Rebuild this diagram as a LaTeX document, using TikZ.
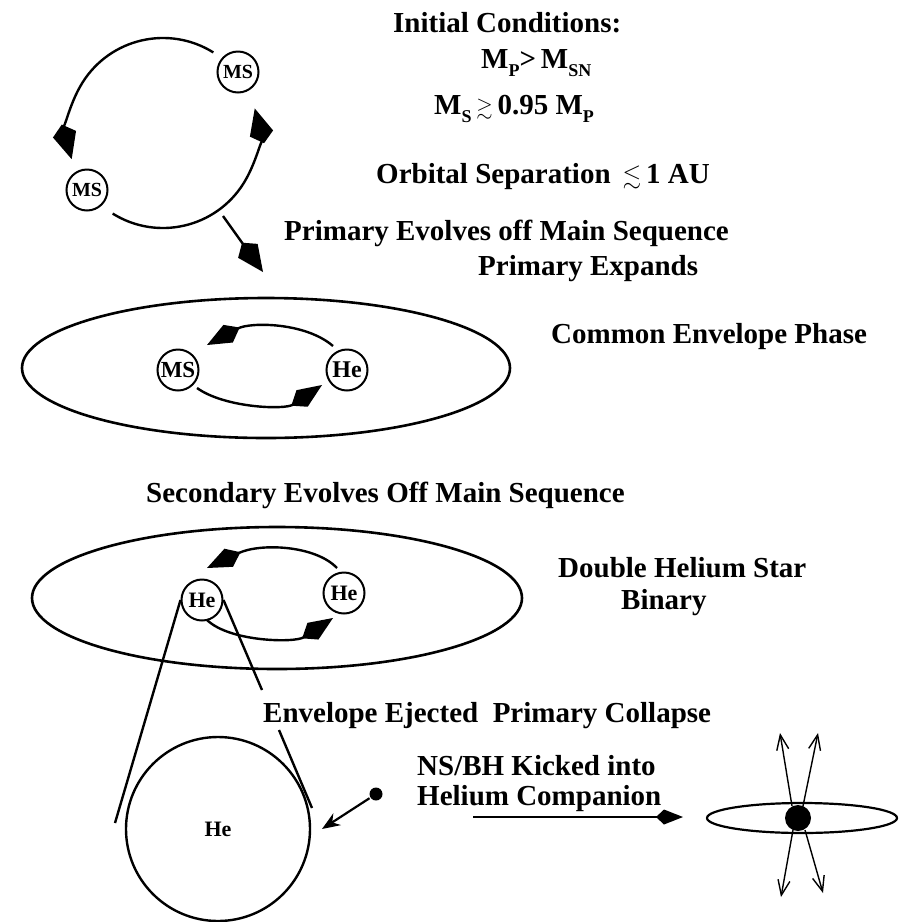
\documentclass[tikz,border=0pt]{standalone}
\usepackage{amssymb}
\usepackage{fontspec}
\setmainfont{Liberation Serif}
\usetikzlibrary{arrows.meta,shapes.geometric}
\newcommand{\mysub}[1]{\raisebox{-0.28em}{\fontsize{18}{18}\selectfont #1}}
\begin{document}
\begin{tikzpicture}[x=1pt,y=-1pt, line width=2.4pt,
  lbl/.style={font=\fontsize{29}{33}\selectfont\bfseries, inner sep=0pt, anchor=base west},
  star/.style={circle, draw, line width=2pt, minimum size=41pt, inner sep=0pt},
  bigkite/.style={-{Kite[length=36pt,width=24pt,inset=10pt]}},
  flatkite/.style={-{Kite[length=37pt,width=20pt,inset=13pt]}},
  envel/.style={draw, ellipse, inner sep=0pt, line width=2.6pt},
  jet/.style={line width=1.4pt, -{Straight Barb[length=15pt,width=12pt]}}
]
\useasboundingbox (0,0) rectangle (899,922);

% --- initial binary
\coordinate (o1) at (163,133);
\node[star, font=\fontsize{20}{20}\selectfont\bfseries] (ms1) at (238,72) {MS};
\node[star, font=\fontsize{20}{20}\selectfont\bfseries] (ms2) at (87,190) {MS};
\draw[bigkite] (o1) ++(-58:95) arc[start angle=-58,end angle=-196,radius=95];
\draw[bigkite] (o1) ++(122:95) arc[start angle=122,end angle=-15,radius=95];
\coordinate (d1a) at (223,216);
\coordinate (d1b) at (263,272);
\draw[bigkite] (d1a) -- (d1b);

% --- texts top
\node[lbl] (t1) at (392,32) {Initial Conditions:};
\node[lbl] (t2) at (480,68) {M\mysub{P}>\,M\mysub{SN}};
\node[lbl] (t3) at (433,114) {M\mysub{S}\,{\fontsize{21}{21}\selectfont$\gtrsim$}\,0.95 M\mysub{P}};
\node[lbl] (t4) at (375,183) {Orbital Separation \,{\fontsize{24}{24}\selectfont$\lesssim$}\,1 AU};
\node[lbl] (t5) at (283,240) {Primary Evolves off Main Sequence};
\node[lbl] (t6) at (477,275) {Primary Expands};

% --- common envelope
\node[envel, minimum width=488pt, minimum height=140pt] (ce) at (266,368) {};
\node[star, font=\fontsize{23}{23}\selectfont\bfseries] (ms3) at (178,370) {MS};
\node[star, font=\fontsize{24}{24}\selectfont\bfseries] (he1) at (347,370) {He};
\coordinate (c1a) at (333,346);
\coordinate (c1b) at (207,345);
\coordinate (c2a) at (197,388);
\coordinate (c2b) at (322,385);
\draw[flatkite] (c1a) .. controls (305,322) and (250,322) .. (c1b);
\draw[flatkite] (c2a) .. controls (225,408) and (285,410) .. (c2b);
\node[lbl] (t7) at (550,343) {Common Envelope Phase};

\node[lbl] (t8) at (145,502) {Secondary Evolves Off Main Sequence};

% --- double helium star
\node[envel, minimum width=490pt, minimum height=142pt] (dhe) at (277,598) {};
\node[star, font=\fontsize{22}{22}\selectfont\bfseries] (he2) at (202,600) {He};
\node[star, font=\fontsize{22}{22}\selectfont\bfseries] (he3) at (344,593) {He};
\coordinate (h1a) at (337,568);
\coordinate (h1b) at (207,568);
\coordinate (h2a) at (207,620);
\coordinate (h2b) at (333,618);
\draw[flatkite] (h1a) .. controls (315,545) and (260,543) .. (h1b);
\draw[flatkite] (h2a) .. controls (230,642) and (295,643) .. (h2b);
\node[lbl] (t9) at (557,577) {Double Helium Star};
\node[lbl] (t10) at (620,609) {Binary};

% --- cone and collapse
\coordinate (k1) at (115,823);
\coordinate (k2) at (262,690);
\coordinate (k3) at (279,730);
\coordinate (k4) at (312,808);
\draw (he2.west) -- (k1);
\draw (he2.east) -- (k2);
\draw (k3) -- (k4);
\node[draw, circle, minimum size=184pt, inner sep=0pt, line width=2.4pt,
      font=\fontsize{22}{22}\selectfont\bfseries] (big) at (218,829) {He};
\node[lbl] (t11) at (262,722) {Envelope Ejected\ \ Primary Collapse};
\node[lbl] (t12) at (416,775) {NS/BH Kicked into};
\node[lbl] (t13) at (416,805) {Helium Companion};

\node[circle, fill, minimum size=13pt, inner sep=0pt] (dot) at (376,794) {};
\coordinate (hit) at (322,829);
\draw[line width=2.2pt, -{Stealth[length=18pt,width=14pt]}] (dot) -- (hit);

\coordinate (la) at (473,817);
\coordinate (lb) at (683,817);
\draw[-{Kite[length=27pt,width=15pt,inset=8pt]}] (la) -- (lb);

% --- final state
\node[envel, line width=2.2pt, minimum width=190pt, minimum height=30pt] (disk) at (802,818) {};
\node[circle, fill, minimum size=26pt, inner sep=0pt] (bh) at (798,818) {};
\coordinate (j1) at (780,733);
\coordinate (j2) at (818,733);
\coordinate (j3) at (781,897);
\coordinate (j4) at (823,893);
\draw[jet] (792,806) -- (j1);
\draw[jet] (803,806) -- (j2);
\draw[jet] (793,830) -- (j3);
\draw[jet] (805,830) -- (j4);
\end{tikzpicture}
\end{document}
